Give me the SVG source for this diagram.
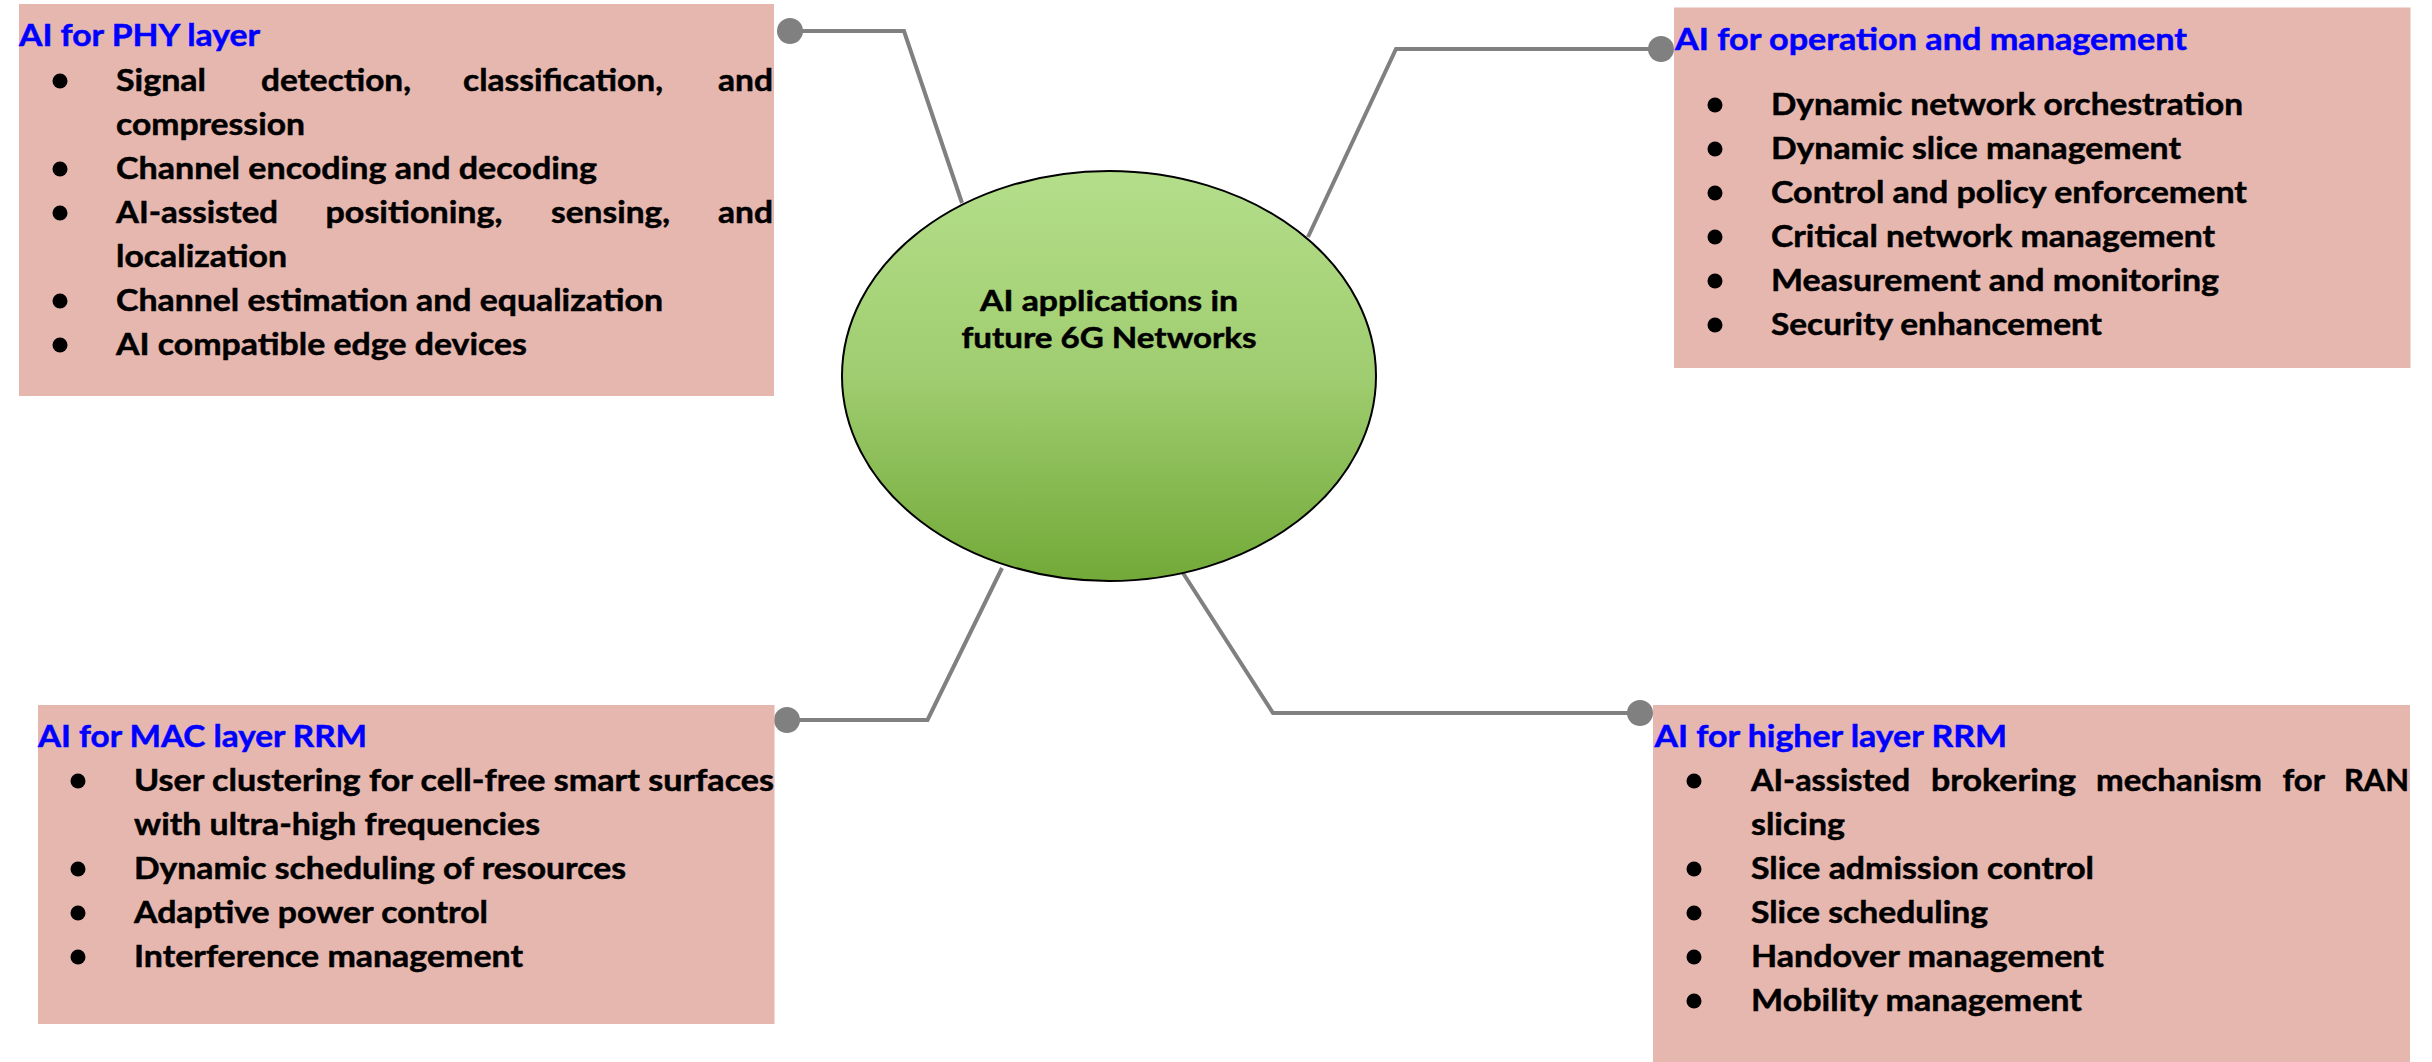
<svg xmlns="http://www.w3.org/2000/svg" width="2432" height="1062" viewBox="0 0 2432 1062">
<defs>
<linearGradient id="g" x1="0" y1="0" x2="0" y2="1">
<stop offset="0" stop-color="#b4de8a"/>
<stop offset="0.5" stop-color="#a0cd70"/>
<stop offset="1" stop-color="#72a938"/>
</linearGradient>
<style>
.box{fill:#e6b7af}
.t{font-family:Lato,"Open Sans","Liberation Sans",sans-serif;font-weight:bold;font-size:31px;fill:#000;stroke:#000;stroke-width:0.5px}
.h{font-family:Lato,"Open Sans","Liberation Sans",sans-serif;font-weight:bold;font-size:31px;fill:#0000ff;stroke:#0000ff;stroke-width:0.5px}
.c{font-family:Lato,"Open Sans","Liberation Sans",sans-serif;font-weight:bold;font-size:29px;fill:#000;stroke:#000;stroke-width:0.5px;text-anchor:middle}
.b{fill:#000}
.ln{fill:none;stroke:#808080;stroke-width:4;stroke-linejoin:miter}
.dot{fill:#808080}
</style>
</defs>
<rect width="2432" height="1062" fill="#fff"/>
<g id="connectors">
<path class="ln" d="M790,31 L904,31 L962,203"/>
<path class="ln" d="M1308,237 L1396,49 L1661,49"/>
<path class="ln" d="M1002,568 L927.5,720 L787,720"/>
<path class="ln" d="M1183,573 L1273,713 L1640,713"/>
<circle class="dot" cx="790" cy="31" r="13"/>
<circle class="dot" cx="1661" cy="49" r="13"/>
<circle class="dot" cx="787" cy="720" r="13"/>
<circle class="dot" cx="1640" cy="713" r="13"/>
</g>
<g id="center">
<ellipse cx="1109" cy="376" rx="267" ry="205" fill="url(#g)" stroke="#000" stroke-width="2"/>
<text class="c" x="1109" y="311" textLength="258" lengthAdjust="spacingAndGlyphs">AI applications in</text>
<text class="c" x="1109" y="348" textLength="295" lengthAdjust="spacingAndGlyphs">future 6G Networks</text>
</g>
<g id="phy">
<rect class="box" x="19" y="4" width="755" height="392"/>
<text class="h" x="19" y="46" textLength="241" lengthAdjust="spacingAndGlyphs">AI for PHY layer</text>
<circle class="b" cx="60" cy="81" r="7.5"/>
<circle class="b" cx="60" cy="169" r="7.5"/>
<circle class="b" cx="60" cy="213" r="7.5"/>
<circle class="b" cx="60" cy="301" r="7.5"/>
<circle class="b" cx="60" cy="345" r="7.5"/>
<text class="t" x="116" y="91" textLength="90" lengthAdjust="spacingAndGlyphs">Signal</text>
<text class="t" x="261" y="91" textLength="150" lengthAdjust="spacingAndGlyphs">detection,</text>
<text class="t" x="463" y="91" textLength="200" lengthAdjust="spacingAndGlyphs">classification,</text>
<text class="t" x="718" y="91" textLength="55" lengthAdjust="spacingAndGlyphs">and</text>
<text class="t" x="116" y="135" textLength="189" lengthAdjust="spacingAndGlyphs">compression</text>
<text class="t" x="116" y="179" textLength="481" lengthAdjust="spacingAndGlyphs">Channel encoding and decoding</text>
<text class="t" x="116" y="223" textLength="162" lengthAdjust="spacingAndGlyphs">AI-assisted</text>
<text class="t" x="325.5" y="223" textLength="177" lengthAdjust="spacingAndGlyphs">positioning,</text>
<text class="t" x="551" y="223" textLength="119" lengthAdjust="spacingAndGlyphs">sensing,</text>
<text class="t" x="718" y="223" textLength="55" lengthAdjust="spacingAndGlyphs">and</text>
<text class="t" x="116" y="267" textLength="171" lengthAdjust="spacingAndGlyphs">localization</text>
<text class="t" x="116" y="311" textLength="547" lengthAdjust="spacingAndGlyphs">Channel estimation and equalization</text>
<text class="t" x="116" y="355" textLength="411" lengthAdjust="spacingAndGlyphs">AI compatible edge devices</text>
</g>
<g id="ops">
<rect class="box" x="1674" y="7.5" width="736.5" height="360.5"/>
<text class="h" x="1675" y="50" textLength="512" lengthAdjust="spacingAndGlyphs">AI for operation and management</text>
<circle class="b" cx="1715" cy="105" r="7.5"/>
<circle class="b" cx="1715" cy="149" r="7.5"/>
<circle class="b" cx="1715" cy="193" r="7.5"/>
<circle class="b" cx="1715" cy="237" r="7.5"/>
<circle class="b" cx="1715" cy="281" r="7.5"/>
<circle class="b" cx="1715" cy="325" r="7.5"/>
<text class="t" x="1771" y="115" textLength="472" lengthAdjust="spacingAndGlyphs">Dynamic network orchestration</text>
<text class="t" x="1771" y="159" textLength="410" lengthAdjust="spacingAndGlyphs">Dynamic slice management</text>
<text class="t" x="1771" y="203" textLength="476" lengthAdjust="spacingAndGlyphs">Control and policy enforcement</text>
<text class="t" x="1771" y="247" textLength="444" lengthAdjust="spacingAndGlyphs">Critical network management</text>
<text class="t" x="1771" y="291" textLength="448" lengthAdjust="spacingAndGlyphs">Measurement and monitoring</text>
<text class="t" x="1771" y="335" textLength="331" lengthAdjust="spacingAndGlyphs">Security enhancement</text>
</g>
<g id="mac">
<rect class="box" x="38" y="705" width="736.5" height="319"/>
<text class="h" x="38" y="747" textLength="329" lengthAdjust="spacingAndGlyphs">AI for MAC layer RRM</text>
<circle class="b" cx="78" cy="781" r="7.5"/>
<circle class="b" cx="78" cy="869" r="7.5"/>
<circle class="b" cx="78" cy="913" r="7.5"/>
<circle class="b" cx="78" cy="957" r="7.5"/>
<text class="t" x="134" y="791" textLength="640" lengthAdjust="spacingAndGlyphs">User clustering for cell-free smart surfaces</text>
<text class="t" x="134" y="835" textLength="406" lengthAdjust="spacingAndGlyphs">with ultra-high frequencies</text>
<text class="t" x="134" y="879" textLength="492" lengthAdjust="spacingAndGlyphs">Dynamic scheduling of resources</text>
<text class="t" x="134" y="923" textLength="354" lengthAdjust="spacingAndGlyphs">Adaptive power control</text>
<text class="t" x="134" y="967" textLength="389" lengthAdjust="spacingAndGlyphs">Interference management</text>
</g>
<g id="higher">
<rect class="box" x="1653" y="705" width="757" height="357"/>
<text class="h" x="1654.5" y="747" textLength="352.5" lengthAdjust="spacingAndGlyphs">AI for higher layer RRM</text>
<circle class="b" cx="1694" cy="781" r="7.5"/>
<circle class="b" cx="1694" cy="869" r="7.5"/>
<circle class="b" cx="1694" cy="913" r="7.5"/>
<circle class="b" cx="1694" cy="957" r="7.5"/>
<circle class="b" cx="1694" cy="1001" r="7.5"/>
<text class="t" x="1751" y="791" textLength="159" lengthAdjust="spacingAndGlyphs">AI-assisted</text>
<text class="t" x="1931" y="791" textLength="145" lengthAdjust="spacingAndGlyphs">brokering</text>
<text class="t" x="2096" y="791" textLength="166" lengthAdjust="spacingAndGlyphs">mechanism</text>
<text class="t" x="2282.5" y="791" textLength="42.5" lengthAdjust="spacingAndGlyphs">for</text>
<text class="t" x="2344" y="791" textLength="65" lengthAdjust="spacingAndGlyphs">RAN</text>
<text class="t" x="1751" y="835" textLength="94" lengthAdjust="spacingAndGlyphs">slicing</text>
<text class="t" x="1751" y="879" textLength="343" lengthAdjust="spacingAndGlyphs">Slice admission control</text>
<text class="t" x="1751" y="923" textLength="237" lengthAdjust="spacingAndGlyphs">Slice scheduling</text>
<text class="t" x="1751" y="967" textLength="353" lengthAdjust="spacingAndGlyphs">Handover management</text>
<text class="t" x="1751" y="1011" textLength="331" lengthAdjust="spacingAndGlyphs">Mobility management</text>
</g>
</svg>
